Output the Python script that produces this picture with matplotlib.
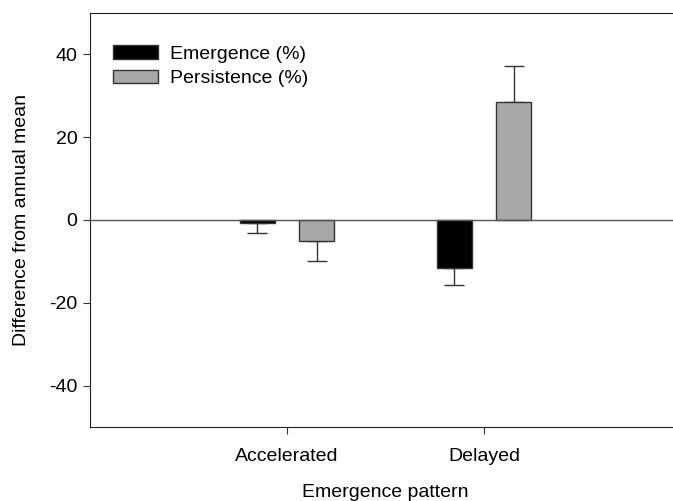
import numpy as np
import matplotlib
matplotlib.use("Agg")
import matplotlib.pyplot as plt

plt.rcParams["font.family"] = ["Liberation Sans", "DejaVu Sans"]
plt.rcParams["axes.unicode_minus"] = False

categories = ["Accelerated", "Delayed"]
series = ["Emergence (%)", "Persistence (%)"]
emergence = [-0.7, -11.6]
emergence_err = [2.5, 4.1]
persistence = [-5.0, 28.5]
persistence_err = [4.9, 8.6]

colors = ["black", "#a8a8a8"]

fig = plt.figure(figsize=(6.73, 5.01), dpi=100)
ax = fig.add_axes([90 / 673, 74 / 501, 591 / 673, 414 / 501])

x = np.arange(1, len(categories) + 1)
width = 0.18
offset = 0.15

for vals, errs, off, col, lab in [
    (emergence, emergence_err, -offset, colors[0], series[0]),
    (persistence, persistence_err, offset, colors[1], series[1]),
]:
    vals = np.array(vals)
    errs = np.array(errs)
    # one-sided error bars, pointing away from zero
    lower = np.where(vals < 0, errs, 0)
    upper = np.where(vals >= 0, errs, 0)
    ax.bar(x + off, vals, width, color=col, edgecolor="#333333",
           linewidth=1.0, label=lab, zorder=2)
    ax.errorbar(x + off, vals, yerr=[lower, upper], fmt="none",
                ecolor="#333333", elinewidth=1.0, capsize=7, capthick=1.0,
                zorder=1)

ax.axhline(0, color="#555555", linewidth=1.0, zorder=3)

ax.set_xlim(0, 3)
ax.set_ylim(-50, 50)
ax.set_yticks([-40, -20, 0, 20, 40])
ax.set_xticks(x)
ax.set_xticklabels(categories)
ax.tick_params(axis="both", direction="out", labelsize=14, length=5,
               color="#333333")
ax.tick_params(axis="x", pad=10)
ax.tick_params(axis="y", pad=4)
ax.spines["right"].set_visible(False)
for s in ["left", "top", "bottom"]:
    ax.spines[s].set_color("#222222")

ax.set_xlabel("Emergence pattern", fontsize=14, labelpad=14)
ax.set_ylabel("Difference from annual mean", fontsize=14, labelpad=14)

ax.legend(loc="upper left", bbox_to_anchor=(0.01, 0.964), frameon=False,
          fontsize=14, handlelength=2.3, handleheight=0.7,
          handletextpad=0.6, labelspacing=0.35)

fig.savefig("out.png", dpi=100)
